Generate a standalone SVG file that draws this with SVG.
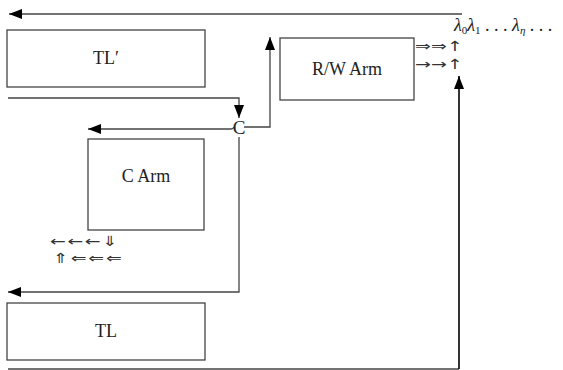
<svg xmlns="http://www.w3.org/2000/svg" width="563" height="370" viewBox="0 0 563 370">
<defs>
<style>
.box{fill:#fff;stroke:#444;stroke-width:1.3}
.ln{fill:none;stroke:#444;stroke-width:1.3}
.lbl{font-family:"Liberation Serif","Times New Roman",serif;font-size:18px;fill:#222;text-anchor:middle}
.ar{font-family:"DejaVu Sans",sans-serif;font-size:14px;fill:#333}
.math{font-family:"Liberation Serif","Times New Roman",serif;font-size:18px;fill:#222}
</style>
<marker id="ah" markerUnits="userSpaceOnUse" markerWidth="14" markerHeight="10" refX="13" refY="5" orient="auto">
<path d="M0,0 L13,5 L0,10 Z" fill="#000"/>
</marker>
</defs>

<g id="connectors">
<path class="ln" d="M462,14 H9" marker-end="url(#ah)"/>
<path class="ln" d="M8,98 H239 V118" marker-end="url(#ah)"/>
<path class="ln" d="M231,129 H88" marker-end="url(#ah)"/>
<path class="ln" d="M231,129 Q233,129 234,127"/>
<path class="ln" d="M244,127 H270 V37" marker-end="url(#ah)"/>
<path class="ln" d="M239,137 V292 H8" marker-end="url(#ah)"/>
<path class="ln" d="M8,369 H459"/>
<path fill="none" stroke="#000" stroke-width="1.6" d="M459,369 V76" marker-end="url(#ah)"/>
</g>

<g id="TLprime">
<rect class="box" x="7" y="30" width="198" height="57"/>
<text class="lbl" x="106" y="64">TL′</text>
</g>

<g id="RWArm">
<rect class="box" x="280" y="38" width="134" height="62"/>
<text class="lbl" x="347" y="75">R/W Arm</text>
</g>

<g id="C">
<text class="lbl" x="239" y="134" style="font-size:19px">C</text>
</g>

<g id="CArm">
<rect class="box" x="88" y="139" width="116" height="91"/>
<text class="lbl" x="146" y="182">C Arm</text>
</g>

<g id="TL">
<rect class="box" x="7" y="303" width="198" height="57"/>
<text class="lbl" x="106" y="337">TL</text>
</g>

<g id="lambdas">
<text class="math" x="454" y="31"><tspan font-style="italic">λ</tspan><tspan font-size="11" dy="3">0</tspan><tspan font-style="italic" dy="-3">λ</tspan><tspan font-size="11" dy="3">1</tspan><tspan dy="-3"> . . . </tspan><tspan font-style="italic">λ</tspan><tspan font-size="11" font-style="italic" dy="3">η</tspan><tspan dy="-3"> . . .</tspan></text>
</g>

<g id="rw-arrows">
<text class="ar" transform="translate(415,51) scale(1.35,1)" textLength="35.6" lengthAdjust="spacing">⇒⇒↑</text>
<text class="ar" transform="translate(415,69) scale(1.35,1)" textLength="35.6" lengthAdjust="spacing">→→↑</text>
</g>

<g id="c-arrows">
<text class="ar" transform="translate(50,246) scale(1.35,1)" textLength="50.4" lengthAdjust="spacing">←←←⇓</text>
<text class="ar" transform="translate(53,263) scale(1.35,1)" textLength="51" lengthAdjust="spacing">⇑⇐⇐⇐</text>
</g>
</svg>
